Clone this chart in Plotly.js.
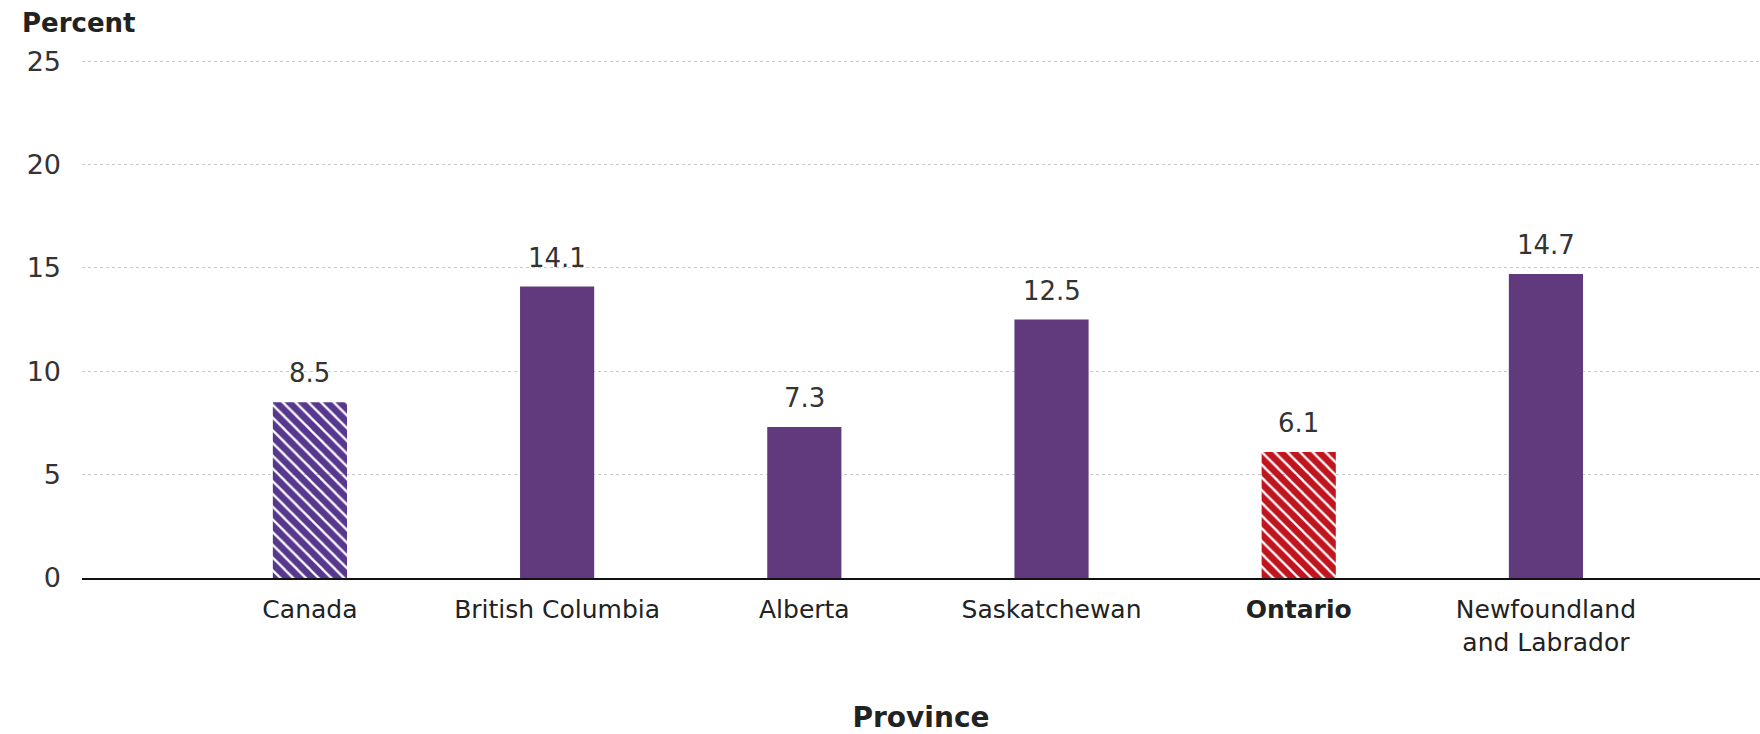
<!DOCTYPE html>
<html>
<head>
<meta charset="utf-8">
<script src="https://cdn.plot.ly/plotly-3.0.1.min.js"></script>
<style>html,body{margin:0;padding:0;background:#fff;}#chart{width:1760px;height:734px;}</style>
</head>
<body>
<div id="chart"></div>
<script>
const categories = ["Canada", "British Columbia", "Alberta", "Saskatchewan", "Ontario", "Newfoundland and Labrador"];
const tickLabels = ["Canada", "British Columbia", "Alberta", "Saskatchewan", "<b>Ontario</b>", "Newfoundland<br>and Labrador"];
const values = [8.5, 14.1, 7.3, 12.5, 6.1, 14.7];
const valueLabels = ["8.5", "14.1", "7.3", "12.5", "6.1", "14.7"];
const yTicks = [0, 5, 10, 15, 20, 25];

const PURPLE = "#613a7d";
const PURPLE_HATCH = "#58388f";
const RED = "#c0141e";

const barColors = categories.map(c => c === "Canada" ? PURPLE_HATCH : (c === "Ontario" ? RED : PURPLE));
const patternShapes = categories.map(c => (c === "Canada" || c === "Ontario") ? "\\" : "");

const trace = {
  type: "bar",
  x: categories,
  y: values,
  width: 0.3,
  marker: {
    color: barColors,
    line: {width: 0},
    pattern: {
      shape: patternShapes,
      fillmode: "replace",
      fgcolor: barColors,
      bgcolor: "#ffffff",
      size: 9,
      solidity: 0.75
    }
  },
  hoverinfo: "x+y",
  showlegend: false
};

const annotations = categories.map((c, i) => ({
  x: c, y: values[i], xref: "x", yref: "y",
  text: valueLabels[i], showarrow: false,
  yanchor: "bottom", yshift: 12,
  font: {family: "DejaVu Sans, sans-serif", size: 26, color: "#333333"}
}));

const layout = {
  width: 1760, height: 734,
  margin: {l: 82, r: 0, t: 55, b: 156},
  paper_bgcolor: "#ffffff", plot_bgcolor: "#ffffff",
  font: {family: "DejaVu Sans, sans-serif", color: "#222222"},
  title: {
    text: "<b>Percent</b>",
    xref: "container", yref: "container",
    x: 22/1760, xanchor: "left",
    y: 1 - 23/734, yanchor: "middle",
    font: {family: "DejaVu Sans, sans-serif", size: 26, color: "#222222"}
  },
  xaxis: {
    type: "category",
    range: [-0.922, 5.866],
    tickmode: "array",
    tickvals: categories,
    ticktext: tickLabels,
    tickfont: {family: "DejaVu Sans, sans-serif", size: 25, color: "#222222"},
    ticks: "",
    ticklabelstandoff: 8,
    showgrid: false,
    showline: true, linecolor: "#111111", linewidth: 2,
    zeroline: false,
    title: {
      text: "<b>Province</b>",
      standoff: 73,
      font: {family: "DejaVu Sans, sans-serif", size: 28, color: "#222222"}
    },
    automargin: false,
    fixedrange: true
  },
  yaxis: {
    range: [0, 25.3],
    tickmode: "array",
    tickvals: yTicks,
    ticktext: yTicks.map(String),
    tickfont: {family: "DejaVu Sans, sans-serif", size: 27, color: "#333333"},
    ticks: "",
    ticklabelstandoff: 20,
    showgrid: true, gridcolor: "#c8c8c8", gridwidth: 1, griddash: "dot",
    zeroline: false,
    showline: false,
    automargin: false,
    fixedrange: true
  },
  annotations: annotations,
  bargap: 0.7
};

Plotly.newPlot("chart", [trace], layout, {displayModeBar: false, staticPlot: true});
</script>
</body>
</html>
